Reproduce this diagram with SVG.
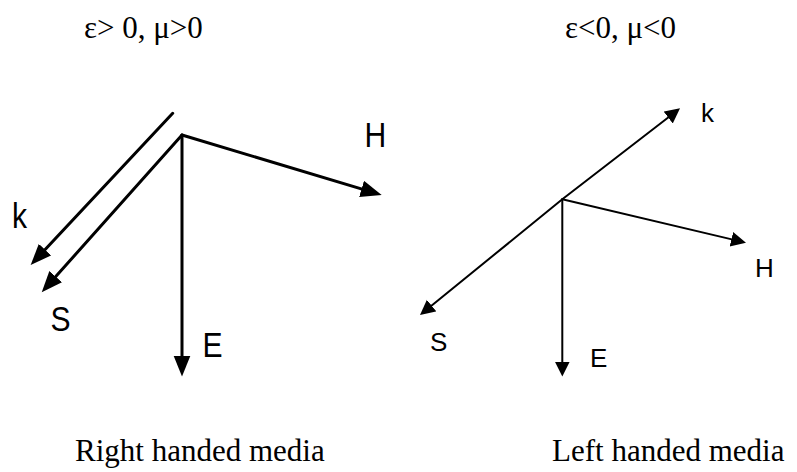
<svg xmlns="http://www.w3.org/2000/svg" width="797" height="472" viewBox="0 0 797 472">
<style>
.cap{font-family:"Liberation Serif","Times New Roman",serif;font-size:31px;fill:#000}
.lbl{font-family:"Liberation Sans",Arial,sans-serif;fill:#000}
.big{font-size:35px}
.small{font-size:26px}
.thick{stroke:#000;stroke-width:3;fill:none;stroke-linecap:round;marker-end:url(#ahL)}
.thin{stroke:#000;stroke-width:2;fill:none;stroke-linecap:round;marker-end:url(#ahS)}
</style>
<defs>
<marker id="ahL" markerUnits="userSpaceOnUse" markerWidth="22" markerHeight="18" refX="11" refY="8.5" orient="auto" viewBox="0 0 22 18">
<path d="M0,0 L21,8.5 L0,17 z" fill="#000"/>
</marker>
<marker id="ahS" markerUnits="userSpaceOnUse" markerWidth="16" markerHeight="16" refX="7" refY="7.5" orient="auto" viewBox="0 0 16 16">
<path d="M0,0 L15,7.5 L0,15 z" fill="#000"/>
</marker>
</defs>
<rect width="797" height="472" fill="#fff"/>
<g id="captions">
<text class="cap" x="84" y="38">ε&gt; 0, μ&gt;0</text>
<text class="cap" x="565" y="38">ε&lt;0, μ&lt;0</text>
<text class="cap" x="75" y="461">Right handed media</text>
<text class="cap" x="552" y="461">Left handed media</text>
</g>
<g id="connectors">
<line class="thick" x1="172.7" y1="113.3" x2="37.5" y2="257.7"/>
<line class="thick" x1="182" y1="135" x2="48.4" y2="284.8"/>
<line class="thick" x1="182" y1="135" x2="182" y2="366.5"/>
<line class="thick" x1="182" y1="135" x2="372.1" y2="192.1"/>
<line class="thin" x1="562.3" y1="199.3" x2="673.7" y2="113.2"/>
<line class="thin" x1="562.3" y1="199.3" x2="426.2" y2="310"/>
<line class="thin" x1="562.3" y1="199.3" x2="562.3" y2="368.5"/>
<line class="thin" x1="562.3" y1="199.3" x2="738.2" y2="240.9"/>
</g>
<g id="right-k"><text class="lbl big" transform="translate(12,228) scale(0.86,1)">k</text></g>
<g id="right-S"><text class="lbl big" transform="translate(50.5,331) scale(0.86,1)">S</text></g>
<g id="right-E"><text class="lbl big" transform="translate(202.6,357) scale(0.86,1)">E</text></g>
<g id="right-H"><text class="lbl big" transform="translate(364.6,147) scale(0.86,1)">H</text></g>
<g id="left-k"><text class="lbl small" x="701" y="122">k</text></g>
<g id="left-S"><text class="lbl small" x="430" y="351">S</text></g>
<g id="left-E"><text class="lbl small" x="590" y="367">E</text></g>
<g id="left-H"><text class="lbl small" x="755" y="277">H</text></g>
</svg>
